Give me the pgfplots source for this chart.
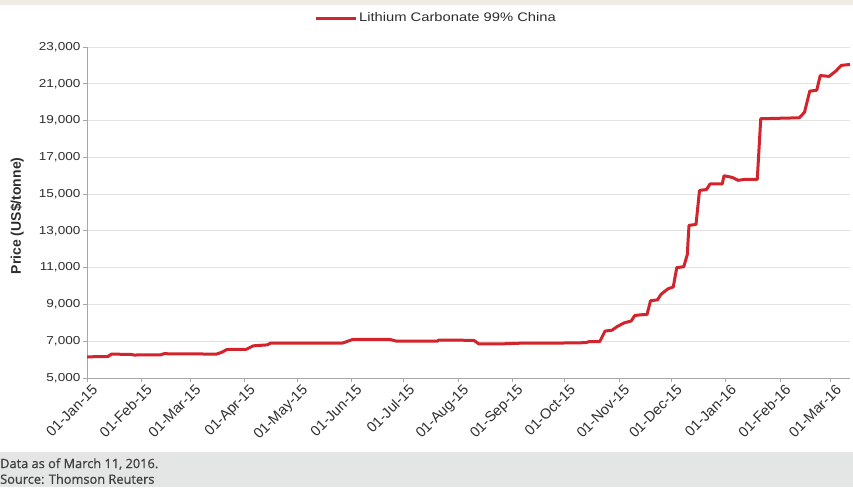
\documentclass[border=0pt]{standalone}
\usepackage{graphicx}
\usepackage{pgfplots}
\pgfplotsset{compat=1.18}
\usepackage{fontspec}
\setmainfont{Liberation Sans}
\newfontfamily\footfont[FakeBold=0.8]{Open Sans}
\definecolor{linered}{HTML}{D2242C}
\definecolor{axisgray}{HTML}{A8A8A8}
\definecolor{gridgray}{HTML}{E2E2E2}
\definecolor{footbg}{HTML}{E4E5E5}
\definecolor{topbg}{HTML}{EEECE4}
\definecolor{foottext}{HTML}{3F3F3F}
\definecolor{ticktext}{HTML}{2E2E2E}

\begin{document}
\begin{tikzpicture}[x=1pt,y=1pt]
\useasboundingbox (0,0) rectangle (853,487);
\fill[white] (0,0) rectangle (853,487);
\fill[topbg] (0,482) rectangle (853,487);
\fill[footbg] (0,0) rectangle (853,35);
\node[anchor=west, font=\footfont\fontsize{12.8}{14}\selectfont, text=foottext, inner sep=0] at (0,23) {Data as of March 11, 2016.};
\node[anchor=west, font=\footfont\fontsize{12.8}{14}\selectfont, text=foottext, inner sep=0] at (0,8) {Source: Thomson Reuters};
\begin{axis}[
  scale only axis, width=763pt, height=331pt,
  at={(87pt,109pt)}, anchor=south west,
  xmin=0, xmax=436, ymin=5000, ymax=23000,
  axis x line*=bottom, axis y line*=left,
  axis line style={axisgray, line width=0.8pt},
  ytick={5000,7000,...,23000},
  scaled y ticks=false,
  xtick={0,31,59,90,120,151,181,212,243,273,304,334,365,396,425},
  xticklabels={01-Jan-15,01-Feb-15,01-Mar-15,01-Apr-15,01-May-15,01-Jun-15,01-Jul-15,01-Aug-15,01-Sep-15,01-Oct-15,01-Nov-15,01-Dec-15,01-Jan-16,01-Feb-16,01-Mar-16},
  ymajorgrids, grid style={gridgray, line width=0.8pt},
  tick style={axisgray, line width=0.8pt},
  tick align=outside, major tick length=4pt,
  yticklabel style={font=\fontsize{11.5}{12}\selectfont, xscale=1.18, text=ticktext, inner sep=2pt},
  xticklabel style={rotate=45, anchor=north east, font=\fontsize{14.5}{15}\selectfont, text=ticktext, inner sep=1pt, xshift=3pt, yshift=-3pt},
  ylabel={Price (US\$/tonne)},
  ylabel style={at={(axis description cs:-0.0917,0.49)}, anchor=center, font=\bfseries\fontsize{14}{15}\selectfont, text=ticktext},
  legend style={at={(axis description cs:0.4574,1.0876)}, anchor=center, draw=none, fill=none, font=\fontsize{12.4}{13}\selectfont, text=ticktext, inner sep=0pt, /tikz/every even column/.append style={column sep=0pt}},
  legend image code/.code={\draw[#1, line width=3pt] (0pt,0pt) -- (40pt,0pt);},
  /pgf/number format/1000 sep={,},
  /pgf/number format/assume math mode=true,
]
\addplot[linered, line width=3pt, line join=round] table {
x y
0 6150
12 6170
14 6300
25 6280
27 6250
42 6260
44 6320
74 6300
77 6400
80 6550
91 6560
95 6750
103 6800
105 6900
146 6900
149 7000
152 7100
173 7100
177 7000
200 7000
201 7060
221 7050
224 6850
235 6850
250 6900
270 6900
285 6920
287 6980
293 6980
296 7550
300 7600
303 7800
307 8000
311 8100
313 8400
318 8450
320 8450
322 9200
326 9250
328 9550
330 9700
332 9850
335 9950
337 11000
341 11050
343 11700
344 13300
348 13350
350 15200
354 15250
356 15550
363 15550
364 16000
369 15900
372 15750
376 15800
383 15800
385 19100
407 19150
410 19450
413 20600
417 20650
419 21450
424 21400
428 21700
431 22000
436 22050
};
\addlegendentry{\scalebox{1.19}[1]{Lithium Carbonate 99\% China}}
\end{axis}
\end{tikzpicture}
\end{document}
